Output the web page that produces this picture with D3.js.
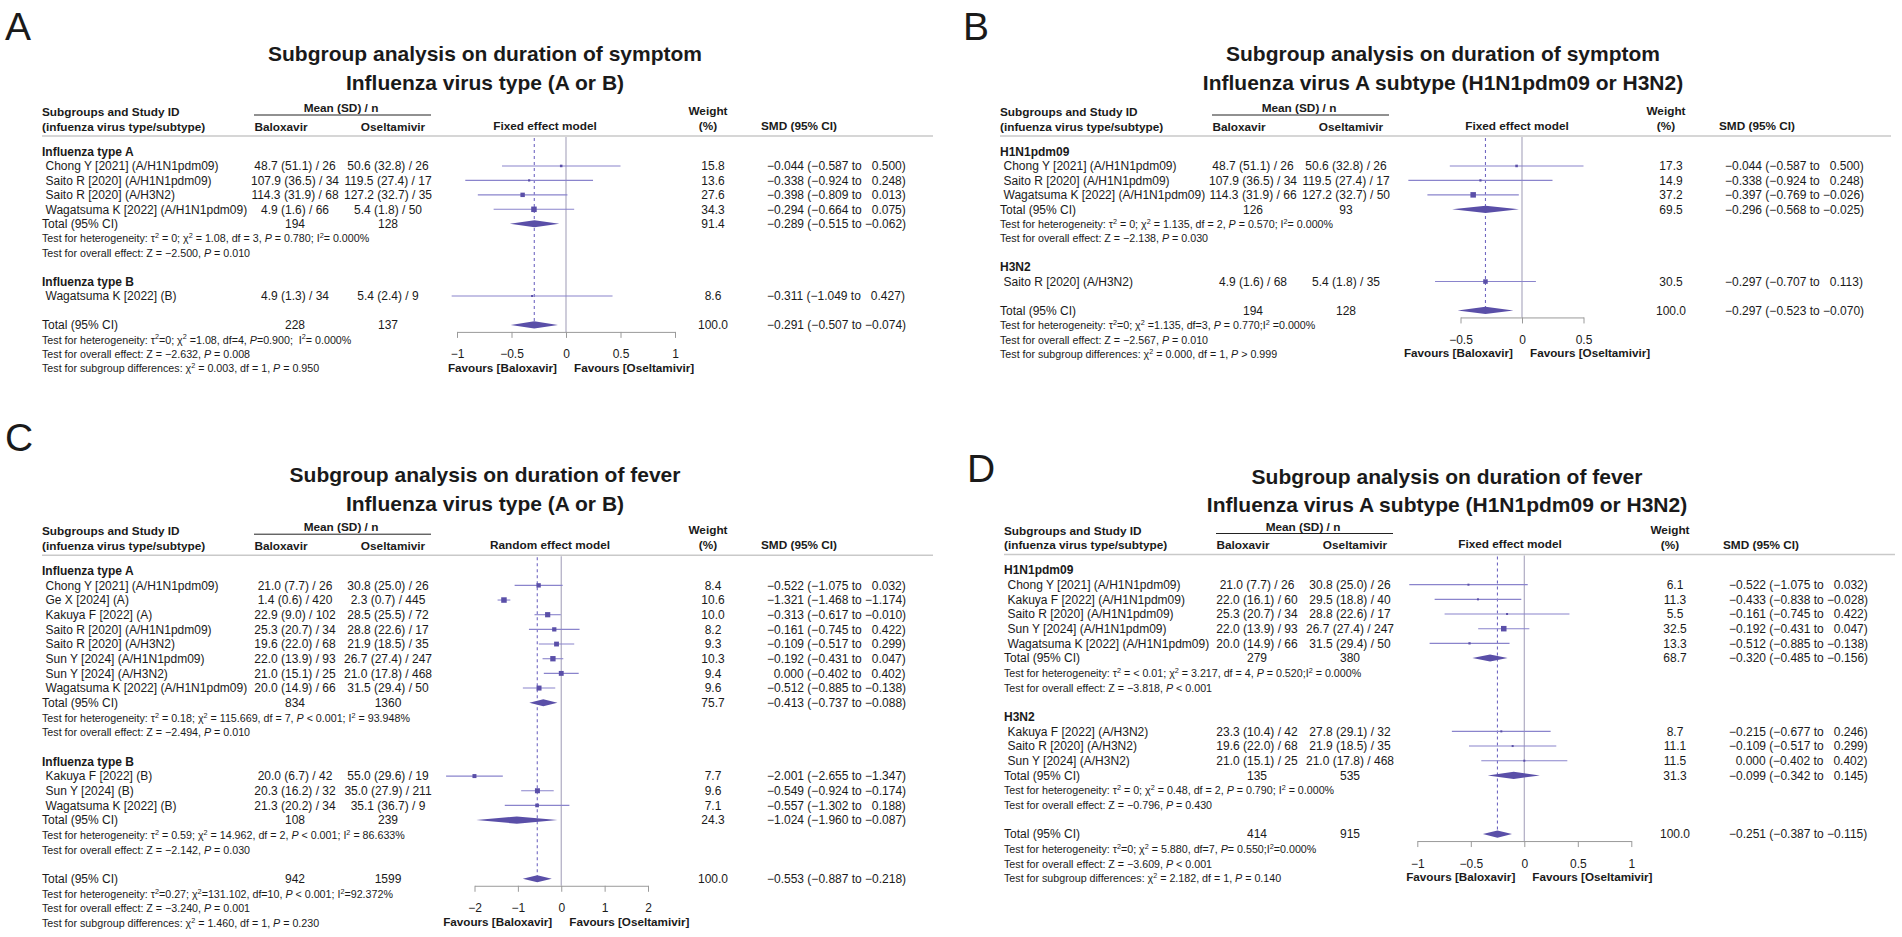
<!DOCTYPE html>
<html>
<head>
<meta charset="utf-8">
<script src="https://cdn.jsdelivr.net/npm/d3@7"></script>
<style>
html, body { margin: 0; padding: 0; background: #fff; }
svg { display: block; }
text { font-family: "Liberation Sans", Arial, Helvetica, sans-serif; fill: #1a1a1a; white-space: pre; }
</style>
</head>
<body>
<svg id="chart" width="1902" height="937"></svg>
<script>
// ---- data: panel A (symptom, type A/B) ----
const titlesA = ['Subgroup analysis on duration of symptom', 'Influenza virus type (A or B)']
const ticksA = [-1, -0.5, 0, 0.5, 1]
const studiesA = [
	{ group: 'Influenza type A', id: 'Chong Y [2021] (A/H1N1pdm09)', bal: '48.7 (51.1) / 26', osel: '50.6 (32.8) / 26', w: 15.8, smd: -0.044, lo: -0.587, hi: 0.500 },
	{ group: 'Influenza type A', id: 'Saito R [2020] (A/H1N1pdm09)', bal: '107.9 (36.5) / 34', osel: '119.5 (27.4) / 17', w: 13.6, smd: -0.338, lo: -0.924, hi: 0.248 },
	{ group: 'Influenza type A', id: 'Saito R [2020] (A/H3N2)', bal: '114.3 (31.9) / 68', osel: '127.2 (32.7) / 35', w: 27.6, smd: -0.398, lo: -0.809, hi: 0.013 },
	{ group: 'Influenza type A', id: 'Wagatsuma K [2022] (A/H1N1pdm09)', bal: '4.9 (1.6) / 66', osel: '5.4 (1.8) / 50', w: 34.3, smd: -0.294, lo: -0.664, hi: 0.075 },
	{ group: 'Influenza type B', id: 'Wagatsuma K [2022] (B)', bal: '4.9 (1.3) / 34', osel: '5.4 (2.4) / 9', w: 8.6, smd: -0.311, lo: -1.049, hi: 0.427 }
]
const subtotalsA = [
	{ group: 'Influenza type A', bal: 194, osel: 128, w: 91.4, smd: -0.289, lo: -0.515, hi: -0.062,
		het: 'Test for heterogeneity: τ^2 = 0; χ^2 = 1.08, df = 3, *P* = 0.780; I^2= 0.000%',
		z: 'Test for overall effect: Z = −2.500, *P* = 0.010' }
]
const overallA = { bal: 228, osel: 137, w: 100.0, smd: -0.291, lo: -0.507, hi: -0.074,
	het: 'Test for heterogeneity: τ^2=0; χ^2 =1.08, df=4, *P*=0.900;  I^2= 0.000%',
	z: 'Test for overall effect: Z = −2.632, *P* = 0.008',
	sub: 'Test for subgroup differences: χ^2 = 0.003, df = 1, *P* = 0.950' }

// ---- data: panel B (symptom, A subtypes) ----
const titlesB = ['Subgroup analysis on duration of symptom', 'Influenza virus A subtype (H1N1pdm09 or H3N2)']
const ticksB = [-0.5, 0, 0.5]
const studiesB = [
	{ group: 'H1N1pdm09', id: 'Chong Y [2021] (A/H1N1pdm09)', bal: '48.7 (51.1) / 26', osel: '50.6 (32.8) / 26', w: 17.3, smd: -0.044, lo: -0.587, hi: 0.500 },
	{ group: 'H1N1pdm09', id: 'Saito R [2020] (A/H1N1pdm09)', bal: '107.9 (36.5) / 34', osel: '119.5 (27.4) / 17', w: 14.9, smd: -0.338, lo: -0.924, hi: 0.248 },
	{ group: 'H1N1pdm09', id: 'Wagatsuma K [2022] (A/H1N1pdm09)', bal: '114.3 (31.9) / 66', osel: '127.2 (32.7) / 50', w: 37.2, smd: -0.397, lo: -0.769, hi: -0.026 },
	{ group: 'H3N2', id: 'Saito R [2020] (A/H3N2)', bal: '4.9 (1.6) / 68', osel: '5.4 (1.8) / 35', w: 30.5, smd: -0.297, lo: -0.707, hi: 0.113 }
]
const subtotalsB = [
	{ group: 'H1N1pdm09', bal: 126, osel: 93, w: 69.5, smd: -0.296, lo: -0.568, hi: -0.025,
		het: 'Test for heterogeneity: τ^2 = 0; χ^2 = 1.135, df = 2, *P* = 0.570; I^2= 0.000%',
		z: 'Test for overall effect: Z = −2.138, *P* = 0.030' }
]
const overallB = { bal: 194, osel: 128, w: 100.0, smd: -0.297, lo: -0.523, hi: -0.070,
	het: 'Test for heterogeneity: τ^2=0; χ^2 =1.135, df=3, *P* = 0.770;I^2 =0.000%',
	z: 'Test for overall effect: Z = −2.567, *P* = 0.010',
	sub: 'Test for subgroup differences: χ^2 = 0.000, df = 1, *P* > 0.999' }

// ---- data: panel C (fever, type A/B) ----
const titlesC = ['Subgroup analysis on duration of fever', 'Influenza virus type (A or B)']
const ticksC = [-2, -1, 0, 1, 2]
const studiesC = [
	{ group: 'Influenza type A', id: 'Chong Y [2021] (A/H1N1pdm09)', bal: '21.0 (7.7) / 26', osel: '30.8 (25.0) / 26', w: 8.4, smd: -0.522, lo: -1.075, hi: 0.032 },
	{ group: 'Influenza type A', id: 'Ge X [2024] (A)', bal: '1.4 (0.6) / 420', osel: '2.3 (0.7) / 445', w: 10.6, smd: -1.321, lo: -1.468, hi: -1.174 },
	{ group: 'Influenza type A', id: 'Kakuya F [2022] (A)', bal: '22.9 (9.0) / 102', osel: '28.5 (25.5) / 72', w: 10.0, smd: -0.313, lo: -0.617, hi: -0.010 },
	{ group: 'Influenza type A', id: 'Saito R [2020] (A/H1N1pdm09)', bal: '25.3 (20.7) / 34', osel: '28.8 (22.6) / 17', w: 8.2, smd: -0.161, lo: -0.745, hi: 0.422 },
	{ group: 'Influenza type A', id: 'Saito R [2020] (A/H3N2)', bal: '19.6 (22.0) / 68', osel: '21.9 (18.5) / 35', w: 9.3, smd: -0.109, lo: -0.517, hi: 0.299 },
	{ group: 'Influenza type A', id: 'Sun Y [2024] (A/H1N1pdm09)', bal: '22.0 (13.9) / 93', osel: '26.7 (27.4) / 247', w: 10.3, smd: -0.192, lo: -0.431, hi: 0.047 },
	{ group: 'Influenza type A', id: 'Sun Y [2024] (A/H3N2)', bal: '21.0 (15.1) / 25', osel: '21.0 (17.8) / 468', w: 9.4, smd: 0.000, lo: -0.402, hi: 0.402 },
	{ group: 'Influenza type A', id: 'Wagatsuma K [2022] (A/H1N1pdm09)', bal: '20.0 (14.9) / 66', osel: '31.5 (29.4) / 50', w: 9.6, smd: -0.512, lo: -0.885, hi: -0.138 },
	{ group: 'Influenza type B', id: 'Kakuya F [2022] (B)', bal: '20.0 (6.7) / 42', osel: '55.0 (29.6) / 19', w: 7.7, smd: -2.001, lo: -2.655, hi: -1.347 },
	{ group: 'Influenza type B', id: 'Sun Y [2024] (B)', bal: '20.3 (16.2) / 32', osel: '35.0 (27.9) / 211', w: 9.6, smd: -0.549, lo: -0.924, hi: -0.174 },
	{ group: 'Influenza type B', id: 'Wagatsuma K [2022] (B)', bal: '21.3 (20.2) / 34', osel: '35.1 (36.7) / 9', w: 7.1, smd: -0.557, lo: -1.302, hi: 0.188 }
]
const subtotalsC = [
	{ group: 'Influenza type A', bal: 834, osel: 1360, w: 75.7, smd: -0.413, lo: -0.737, hi: -0.088,
		het: 'Test for heterogeneity: τ^2 = 0.18; χ^2 = 115.669, df = 7, *P* < 0.001; I^2 = 93.948%',
		z: 'Test for overall effect: Z = −2.494, *P* = 0.010' },
	{ group: 'Influenza type B', bal: 108, osel: 239, w: 24.3, smd: -1.024, lo: -1.960, hi: -0.087,
		het: 'Test for heterogeneity: τ^2 = 0.59; χ^2 = 14.962, df = 2, *P* < 0.001; I^2 = 86.633%',
		z: 'Test for overall effect: Z = −2.142, *P* = 0.030' }
]
const overallC = { bal: 942, osel: 1599, w: 100.0, smd: -0.553, lo: -0.887, hi: -0.218,
	het: 'Test for heterogeneity: τ^2=0.27; χ^2=131.102, df=10, *P* < 0.001; I^2=92.372%',
	z: 'Test for overall effect: Z = −3.240, *P* = 0.001',
	sub: 'Test for subgroup differences: χ^2 = 1.460, df = 1, *P* = 0.230' }

// ---- data: panel D (fever, A subtypes) ----
const titlesD = ['Subgroup analysis on duration of fever', 'Influenza virus A subtype (H1N1pdm09 or H3N2)']
const ticksD = [-1, -0.5, 0, 0.5, 1]
const studiesD = [
	{ group: 'H1N1pdm09', id: 'Chong Y [2021] (A/H1N1pdm09)', bal: '21.0 (7.7) / 26', osel: '30.8 (25.0) / 26', w: 6.1, smd: -0.522, lo: -1.075, hi: 0.032 },
	{ group: 'H1N1pdm09', id: 'Kakuya F [2022] (A/H1N1pdm09)', bal: '22.0 (16.1) / 60', osel: '29.5 (18.8) / 40', w: 11.3, smd: -0.433, lo: -0.838, hi: -0.028 },
	{ group: 'H1N1pdm09', id: 'Saito R [2020] (A/H1N1pdm09)', bal: '25.3 (20.7) / 34', osel: '28.8 (22.6) / 17', w: 5.5, smd: -0.161, lo: -0.745, hi: 0.422 },
	{ group: 'H1N1pdm09', id: 'Sun Y [2024] (A/H1N1pdm09)', bal: '22.0 (13.9) / 93', osel: '26.7 (27.4) / 247', w: 32.5, smd: -0.192, lo: -0.431, hi: 0.047 },
	{ group: 'H1N1pdm09', id: 'Wagatsuma K [2022] (A/H1N1pdm09)', bal: '20.0 (14.9) / 66', osel: '31.5 (29.4) / 50', w: 13.3, smd: -0.512, lo: -0.885, hi: -0.138 },
	{ group: 'H3N2', id: 'Kakuya F [2022] (A/H3N2)', bal: '23.3 (10.4) / 42', osel: '27.8 (29.1) / 32', w: 8.7, smd: -0.215, lo: -0.677, hi: 0.246 },
	{ group: 'H3N2', id: 'Saito R [2020] (A/H3N2)', bal: '19.6 (22.0) / 68', osel: '21.9 (18.5) / 35', w: 11.1, smd: -0.109, lo: -0.517, hi: 0.299 },
	{ group: 'H3N2', id: 'Sun Y [2024] (A/H3N2)', bal: '21.0 (15.1) / 25', osel: '21.0 (17.8) / 468', w: 11.5, smd: 0.000, lo: -0.402, hi: 0.402 }
]
const subtotalsD = [
	{ group: 'H1N1pdm09', bal: 279, osel: 380, w: 68.7, smd: -0.320, lo: -0.485, hi: -0.156,
		het: 'Test for heterogeneity: τ^2 = < 0.01; χ^2 = 3.217, df = 4, *P* = 0.520;I^2 = 0.000%',
		z: 'Test for overall effect: Z = −3.818, *P* < 0.001' },
	{ group: 'H3N2', bal: 135, osel: 535, w: 31.3, smd: -0.099, lo: -0.342, hi: 0.145,
		het: 'Test for heterogeneity: τ^2 = 0; χ^2 = 0.48, df = 2, *P* = 0.790; I^2 = 0.000%',
		z: 'Test for overall effect: Z = −0.796, *P* = 0.430' }
]
const overallD = { bal: 414, osel: 915, w: 100.0, smd: -0.251, lo: -0.387, hi: -0.115,
	het: 'Test for heterogeneity: τ^2=0; χ^2 = 5.880, df=7, *P*= 0.550;I^2=0.000%',
	z: 'Test for overall effect: Z = −3.609, *P* < 0.001',
	sub: 'Test for subgroup differences: χ^2 = 2.182, df = 1, *P* = 0.140' }

// ---- layout ----
const cols = { head: 42, study: 45.5, bal: 295, osel: 388, balHead: 281, oselHead: 393, mean: 341,
	meanLine: [254, 431], weight: 713, weightHead: 708, smd: 767, smdHead: 761, sep: [42, 933], title: 485 }

const colors = { ci: '#8a84cc', point: '#5a4fa8', diamond: '#5a4fa8', zero: '#aeabc2', pooled: '#7168c2', axis: '#9a9a9a', sep: '#c9c9c9' }

const panels = [
	{ letter: 'A', ox: 0, letterY: 40, titleY: [61, 90], first: 151.5, rowH: 14.45, model: 'Fixed effect model', modelX: 545,
		range: [457, 675], titles: titlesA, ticks: ticksA, studies: studiesA, subtotals: subtotalsA, overall: overallA },
	{ letter: 'B', ox: 958, letterY: 40, titleY: [61, 90], first: 151.5, rowH: 14.45, model: 'Fixed effect model', modelX: 559,
		range: [502.5, 625.5], titles: titlesB, ticks: ticksB, studies: studiesB, subtotals: subtotalsB, overall: overallB },
	{ letter: 'C', ox: 0, letterY: 451, titleY: [482, 511], first: 570.7, rowH: 14.67, model: 'Random effect model', modelX: 550,
		range: [474.5, 648], titles: titlesC, ticks: ticksC, studies: studiesC, subtotals: subtotalsC, overall: overallC },
	{ letter: 'D', ox: 962, letterY: 482, titleY: [484, 512], first: 570, rowH: 14.67, model: 'Fixed effect model', modelX: 548,
		range: [455.3, 669.3], titles: titlesD, ticks: ticksD, studies: studiesD, subtotals: subtotalsD, overall: overallD }
]

const svg = d3.select('#chart').attr('xml:space', 'preserve')

// negative numbers get a minus sign, the others two spaces of padding
const num = v => (v < 0 ? '−' : '  ') + Math.abs(v).toFixed(3)
const smdText = d => `${num(d.smd)} (${num(d.lo)} to ${num(d.hi)})`

// text with ^2 superscripts and *P* italics
function rich(sel, str, fs) {
	let shift = 0
	str.split(/(\^2|\*P\*)/).filter(s => s !== '').forEach(part => {
		const t = sel.append('tspan')
		if (part === '^2') {
			t.text('2').style('font-size', (fs * 0.68) + 'px').attr('dy', -fs * 0.38)
			shift = fs * 0.38
			return
		}
		t.text(part === '*P*' ? 'P' : part)
		if (part === '*P*') t.style('font-style', 'italic')
		if (shift) { t.attr('dy', shift); shift = 0 }
	})
}

function buildRows(p) {
	const rows = []
	const groups = [...new Set(p.studies.map(s => s.group))]
	groups.forEach((g, gi) => {
		if (gi > 0) rows.push({ type: 'blank' })
		rows.push({ type: 'head', text: g })
		p.studies.filter(s => s.group === g).forEach(s => rows.push({ type: 'study', d: s }))
		const st = p.subtotals.find(t => t.group === g)
		if (st) {
			rows.push({ type: 'total', d: st })
			rows.push({ type: 'test', text: st.het })
			rows.push({ type: 'test', text: st.z })
		}
	})
	rows.push({ type: 'blank' })
	rows.push({ type: 'total', d: p.overall, overall: true })
	rows.push({ type: 'test', text: p.overall.het })
	rows.push({ type: 'test', text: p.overall.z })
	rows.push({ type: 'test', text: p.overall.sub })
	return rows
}

function renderPanel(p) {
	const g = svg.append('g').attr('transform', `translate(${p.ox},0)`)
	const x = d3.scaleLinear().domain([p.ticks[0], p.ticks[p.ticks.length - 1]]).range(p.range)
	const rows = buildRows(p)
	const y = i => p.first + i * p.rowH
	const sepY = p.first - 15.5
	const size = d3.scaleLinear().domain([0, d3.max(p.studies, d => d.w)]).range([0, 5.5])
	const lastIdx = rows.findIndex(r => r.overall)
	const lastY = y(lastIdx)

	g.append('text').attr('x', 5).attr('y', p.letterY).style('font-size', '39px').text(p.letter)

	g.selectAll('text.title').data(p.titles).enter().append('text')
		.attr('class', 'title')
		.attr('x', cols.title).attr('y', (d, i) => p.titleY[i])
		.attr('text-anchor', 'middle')
		.style('font-size', '21px').style('font-weight', 'bold')
		.text(d => d)

	// header
	const hb = (tx, xx, yy, anchor) => g.append('text').attr('x', xx).attr('y', yy)
		.attr('text-anchor', anchor || 'start').style('font-size', '11.8px').style('font-weight', 'bold').text(tx)
	hb('Subgroups and Study ID', cols.head, p.first - 35.5)
	hb('(infuenza virus type/subtype)', cols.head, p.first - 21)
	hb('Mean (SD) / n', cols.mean, p.first - 39.5, 'middle')
	hb('Baloxavir', cols.balHead, p.first - 21, 'middle')
	hb('Oseltamivir', cols.oselHead, p.first - 21, 'middle')
	hb(p.model, p.modelX, p.first - 22, 'middle')
	hb('Weight', cols.weightHead, p.first - 36.5, 'middle')
	hb('(%)', cols.weightHead, p.first - 21.5, 'middle')
	hb('SMD (95% CI)', cols.smdHead, p.first - 21.5)
	g.append('line').attr('x1', cols.meanLine[0]).attr('x2', cols.meanLine[1])
		.attr('y1', p.first - 36.5).attr('y2', p.first - 36.5).attr('stroke', '#222').attr('stroke-width', 1)
	g.append('line').attr('x1', cols.sep[0]).attr('x2', cols.sep[1])
		.attr('y1', sepY).attr('y2', sepY).attr('stroke', colors.sep).attr('stroke-width', 1.5)

	// reference lines
	g.append('line').attr('x1', x(0)).attr('x2', x(0)).attr('y1', sepY + 1).attr('y2', lastY + 7)
		.attr('stroke', colors.zero).attr('stroke-width', 1.2)
	g.append('line').attr('x1', x(p.overall.smd)).attr('x2', x(p.overall.smd)).attr('y1', sepY + 2).attr('y2', lastY)
		.attr('stroke', colors.pooled).attr('stroke-width', 1.1).attr('stroke-dasharray', '3,3')

	// rows
	rows.forEach((r, i) => {
		const ty = y(i) + 4.2
		const txt = (tx, xx, anchor, fs) => g.append('text').attr('x', xx).attr('y', ty)
			.attr('text-anchor', anchor).style('font-size', (fs || 12) + 'px').text(tx)
		if (r.type === 'head') {
			txt(r.text, cols.head, 'start').style('font-weight', 'bold')
		}
		else if (r.type === 'test') {
			rich(g.append('text').attr('x', cols.head).attr('y', ty).style('font-size', '10.7px'), r.text, 10.7)
		}
		else if (r.type === 'study' || r.type === 'total') {
			const d = r.d
			if (r.type === 'study') txt(d.id, cols.study, 'start')
			else txt('Total (95% CI)', cols.head, 'start')
			txt(d.bal, cols.bal, 'middle')
			txt(d.osel, cols.osel, 'middle')
			txt(d.w.toFixed(1), cols.weight, 'middle')
			txt(smdText(d), cols.smd, 'start')
			if (r.type === 'study') {
				g.append('line').attr('x1', x(d.lo)).attr('x2', x(d.hi)).attr('y1', y(i)).attr('y2', y(i))
					.attr('stroke', colors.ci).attr('stroke-width', 1.1)
				const s = Math.max(2, size(d.w))
				g.append('rect').attr('x', x(d.smd) - s / 2).attr('y', y(i) - s / 2)
					.attr('width', s).attr('height', s).attr('fill', colors.point)
			}
			else {
				const yy = y(i)
				g.append('path')
					.attr('d', `M${x(d.lo)},${yy}L${x(d.smd)},${yy - 3.6}L${x(d.hi)},${yy}L${x(d.smd)},${yy + 3.6}Z`)
					.attr('fill', colors.diamond)
			}
		}
	})

	// axis
	const axis = g.append('g').attr('transform', `translate(0,${lastY + 7})`)
		.call(d3.axisBottom(x).tickValues(p.ticks).tickSize(6).tickSizeOuter(0).tickPadding(12).tickFormat(d3.format('')))
		.attr('font-family', null).attr('font-size', null)
	axis.select('.domain').attr('stroke', colors.axis)
	axis.selectAll('.tick line').attr('stroke', colors.axis)
	axis.selectAll('.tick text').style('font-size', '12px').attr('fill', '#1a1a1a')

	g.append('text').attr('x', x(0) - 9).attr('y', lastY + 47).attr('text-anchor', 'end')
		.style('font-size', '11.7px').style('font-weight', 'bold').text('Favours [Baloxavir]')
	g.append('text').attr('x', x(0) + 8).attr('y', lastY + 47).attr('text-anchor', 'start')
		.style('font-size', '11.7px').style('font-weight', 'bold').text('Favours [Oseltamivir]')
}

panels.forEach(renderPanel)
</script>
</body>
</html>
